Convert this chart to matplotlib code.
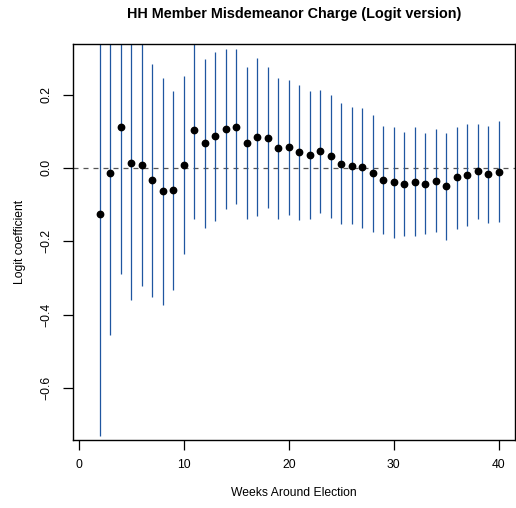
import matplotlib.pyplot as plt
import numpy as np

plt.rcParams["font.family"] = ["Liberation Sans", "DejaVu Sans"]

# weekly logit estimates with 95% interval bounds
weeks = np.arange(2, 41)
coef = [
    -0.125, -0.013, 0.112, 0.013, 0.008, -0.034, -0.063, -0.060, 0.007, 0.103,
    0.067, 0.087, 0.107, 0.113, 0.068, 0.085, 0.083, 0.055, 0.056, 0.043,
    0.035, 0.046, 0.032, 0.012, 0.006, 0.002, -0.015, -0.033, -0.039, -0.045,
    -0.037, -0.043, -0.035, -0.050, -0.026, -0.019, -0.009, -0.016, -0.011,
]
upper = [
    0.481, 0.429, 0.512, 0.385, 0.345, 0.283, 0.246, 0.211, 0.252, 0.344,
    0.296, 0.317, 0.325, 0.324, 0.274, 0.299, 0.274, 0.246, 0.241, 0.226,
    0.210, 0.213, 0.198, 0.177, 0.165, 0.164, 0.145, 0.115, 0.112, 0.097,
    0.111, 0.096, 0.105, 0.095, 0.113, 0.119, 0.121, 0.115, 0.127,
]
lower = [
    -0.731, -0.455, -0.288, -0.359, -0.321, -0.351, -0.373, -0.333, -0.236, -0.138,
    -0.163, -0.145, -0.111, -0.099, -0.138, -0.130, -0.108, -0.138, -0.128, -0.141,
    -0.138, -0.123, -0.136, -0.153, -0.154, -0.163, -0.175, -0.179, -0.190, -0.186,
    -0.185, -0.180, -0.174, -0.196, -0.166, -0.158, -0.138, -0.149, -0.148,
]
xticks = [0, 10, 20, 30, 40]
yticks = [-0.6, -0.4, -0.2, 0.0, 0.2]

W, H = 516, 508
fig = plt.figure(figsize=(W / 100, H / 100), dpi=100)
ax = fig.add_axes([73 / W, (H - 440) / H, (515 - 73) / W, (440 - 44) / H])

ax.vlines(weeks, lower, upper, color="#1f56a0", linewidth=0.9, zorder=2)
ax.axhline(0, color="#555555", linestyle=(0, (4, 4)), linewidth=0.9, zorder=1)
ax.plot(weeks, coef, "o", color="black", markersize=4.6, zorder=3)

ax.set_xlim(-0.56, 41.56)
ax.set_ylim(-0.742, 0.338)
ax.set_xticks(xticks)
ax.set_yticks(yticks)
ax.set_yticklabels([f"{v:.1f}".replace("-", "\u2212") for v in yticks],
                   rotation=90, va="center")
ax.tick_params(direction="out", length=7, width=0.9, labelsize=8.7, pad=7,
               colors="black")
ax.tick_params(axis="y", pad=8)
for s in ax.spines.values():
    s.set_linewidth(1.0)

# labels placed in figure pixels, R-style margins
fig.text(294 / W, 1 - 493 / H, "Weeks Around Election", fontsize=8.7,
         ha="center", va="center")
fig.text(20 / W, 1 - 242 / H, "Logit coefficient", fontsize=8.7,
         rotation=90, ha="center", va="center")
fig.text(294 / W, 1 - 14 / H, "HH Member Misdemeanor Charge (Logit version)",
         fontsize=10.4, fontweight="bold", ha="center", va="center")

fig.savefig("out.png", dpi=100)
